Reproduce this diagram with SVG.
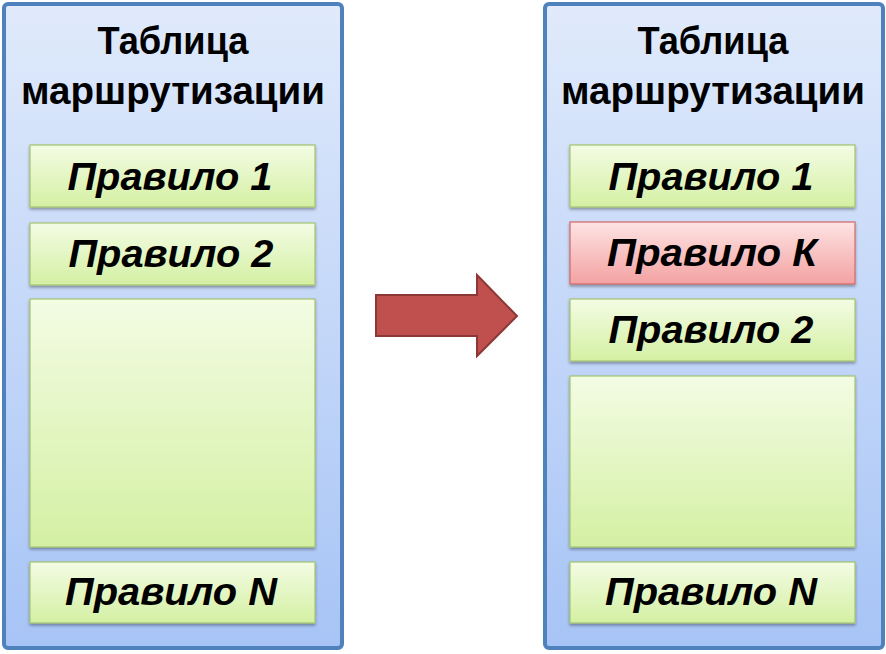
<svg xmlns="http://www.w3.org/2000/svg" width="886" height="654" viewBox="0 0 886 654">
<defs>
<linearGradient id="panelG" x1="0" y1="0" x2="0" y2="1">
<stop offset="0" stop-color="#e0eafb"/>
<stop offset="1" stop-color="#a7c4f6"/>
</linearGradient>
<linearGradient id="greenG" x1="0" y1="0" x2="0" y2="1">
<stop offset="0" stop-color="#f3fce4"/>
<stop offset="1" stop-color="#d4f0a3"/>
</linearGradient>
<linearGradient id="redG" x1="0" y1="0" x2="0" y2="1">
<stop offset="0" stop-color="#fde3e3"/>
<stop offset="1" stop-color="#f4a2a2"/>
</linearGradient>
<filter id="sh" x="-10%" y="-10%" width="120%" height="130%">
<feDropShadow dx="0" dy="2" stdDeviation="1.5" flood-color="#000" flood-opacity="0.35"/>
</filter>
</defs>
<style>
.panel{fill:url(#panelG);stroke:#4f81bd;stroke-width:4}
.g{fill:url(#greenG);stroke:#a3c46f;stroke-width:1.2;filter:url(#sh)}
.r{fill:url(#redG);stroke:#d06a68;stroke-width:1.2;filter:url(#sh)}
.title{font-family:"Liberation Sans",Arial,sans-serif;font-weight:bold;font-size:38px;fill:#000;text-anchor:middle}
.rule{font-family:"Liberation Sans",Arial,sans-serif;font-weight:bold;font-style:italic;font-size:38px;fill:#000;text-anchor:middle}
</style>
<g id="left-table">
<rect class="panel" x="4" y="4" width="338" height="644" rx="4"/>
<text class="title" x="173" y="54" textLength="151" lengthAdjust="spacingAndGlyphs">Таблица</text>
<text class="title" x="173" y="104" textLength="304" lengthAdjust="spacingAndGlyphs">маршрутизации</text>
</g>
<g id="left-rule1"><rect class="g" x="30" y="145" width="285" height="62"/><text class="rule" x="170" y="190" textLength="205" lengthAdjust="spacingAndGlyphs">Правило 1</text></g>
<g id="left-rule2"><rect class="g" x="30" y="223" width="285" height="62"/><text class="rule" x="171" y="267" textLength="205" lengthAdjust="spacingAndGlyphs">Правило 2</text></g>
<g id="left-empty"><rect class="g" x="30" y="299" width="285" height="248"/></g>
<g id="left-ruleN"><rect class="g" x="30" y="562" width="285" height="61"/><text class="rule" x="171" y="605" textLength="212" lengthAdjust="spacingAndGlyphs">Правило N</text></g>
<g id="connectors">
<path d="M376,295 H477 V275 L517,316 L477,356 V336 H376 Z" fill="#c0504d" stroke="#8c3836" stroke-width="2" stroke-linejoin="miter"/>
</g>
<g id="right-table">
<rect class="panel" x="545" y="4" width="338" height="644" rx="4"/>
<text class="title" x="713" y="54" textLength="151" lengthAdjust="spacingAndGlyphs">Таблица</text>
<text class="title" x="713" y="104" textLength="304" lengthAdjust="spacingAndGlyphs">маршрутизации</text>
</g>
<g id="right-rule1"><rect class="g" x="570" y="145" width="285" height="62"/><text class="rule" x="711" y="190" textLength="205" lengthAdjust="spacingAndGlyphs">Правило 1</text></g>
<g id="right-ruleK"><rect class="r" x="570" y="222" width="285" height="62"/><text class="rule" x="712" y="266" textLength="210" lengthAdjust="spacingAndGlyphs">Правило К</text></g>
<g id="right-rule2"><rect class="g" x="570" y="299" width="285" height="62"/><text class="rule" x="711" y="343" textLength="205" lengthAdjust="spacingAndGlyphs">Правило 2</text></g>
<g id="right-empty"><rect class="g" x="570" y="376" width="285" height="171"/></g>
<g id="right-ruleN"><rect class="g" x="570" y="562" width="285" height="61"/><text class="rule" x="711" y="605" textLength="212" lengthAdjust="spacingAndGlyphs">Правило N</text></g>
</svg>
